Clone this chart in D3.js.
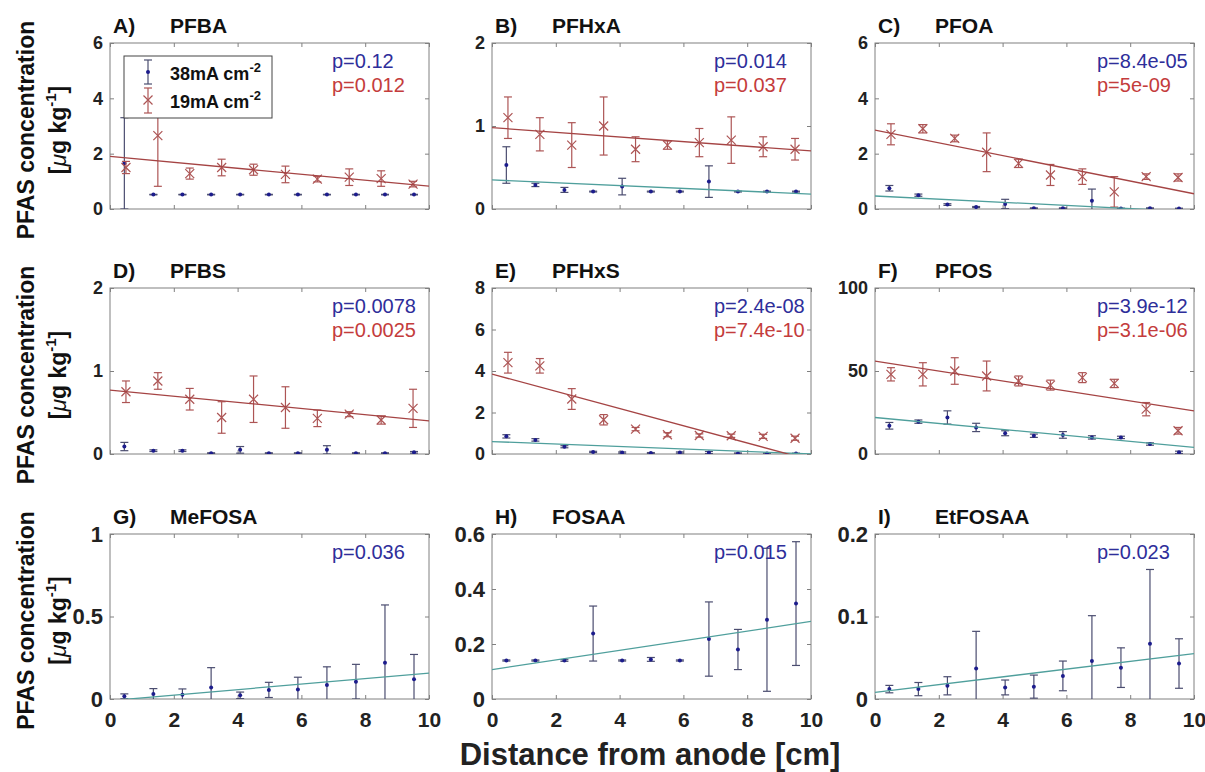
<!DOCTYPE html>
<html>
<head>
<meta charset="utf-8">
<script src="https://cdn.jsdelivr.net/npm/d3@7"></script>
<style>
  body { margin: 0; background: #fff; }
  text { font-family: Arial, "Liberation Sans", sans-serif; }
</style>
</head>
<body>
<div id="chart"></div>
<script>
// distances (cm) of the sampling points for each current density
const distBlue = [0.45, 1.36, 2.27, 3.17, 4.08, 4.98, 5.89, 6.8, 7.71, 8.62, 9.53];
const distRed = [0.5, 1.5, 2.5, 3.5, 4.5, 5.5, 6.5, 7.5, 8.5, 9.5];

const panelTags = ["A)", "B)", "C)", "D)", "E)", "F)", "G)", "H)", "I)"];
const compounds = ["PFBA", "PFHxA", "PFOA", "PFBS", "PFHxS", "PFOS", "MeFOSA", "FOSAA", "EtFOSAA"];
const yTickSets = [[0, 2, 4, 6], [0, 1, 2], [0, 2, 4, 6], [0, 1, 2], [0, 2, 4, 6, 8], [0, 50, 100],
                   [0, 0.5, 1], [0, 0.2, 0.4, 0.6], [0, 0.1, 0.2]];
const xTickVals = [0, 2, 4, 6, 8, 10];

// 38 mA cm-2 : mean and error
const blueMean = [
  [1.65, 0.52, 0.52, 0.52, 0.52, 0.52, 0.52, 0.52, 0.52, 0.52, 0.52],
  [0.53, 0.29, 0.23, 0.21, 0.27, 0.21, 0.21, 0.33, 0.21, 0.21, 0.21],
  [0.75, 0.5, 0.16, 0.07, 0.18, 0.03, 0.03, 0.3, 0.02, 0.03, 0.02],
  [0.09, 0.04, 0.04, 0.01, 0.05, 0.01, 0.01, 0.05, 0.01, 0.01, 0.02],
  [0.85, 0.68, 0.35, 0.1, 0.07, 0.05, 0.07, 0.07, 0.03, 0.03, 0.02],
  [17, 19.5, 22, 16, 12.5, 11, 11.5, 10, 10, 6, 1],
  [0.016, 0.03, 0.026, 0.07, 0.022, 0.055, 0.057, 0.085, 0.105, 0.22, 0.12],
  [0.14, 0.14, 0.14, 0.238, 0.14, 0.144, 0.14, 0.218, 0.18, 0.288, 0.347],
  [0.012, 0.012, 0.016, 0.037, 0.014, 0.015, 0.028, 0.046, 0.038, 0.067, 0.043]
];
const blueErr = [
  [1.65, 0.01, 0.01, 0.01, 0.01, 0.01, 0.01, 0.01, 0.01, 0.01, 0.01],
  [0.22, 0.02, 0.03, 0.005, 0.1, 0.005, 0.005, 0.19, 0.005, 0.005, 0.005],
  [0.1, 0.04, 0.03, 0.02, 0.17, 0.01, 0.01, 0.42, 0.01, 0.01, 0.01],
  [0.05, 0.01, 0.01, 0.005, 0.04, 0.005, 0.005, 0.05, 0.005, 0.005, 0.01],
  [0.08, 0.06, 0.05, 0.03, 0.03, 0.02, 0.03, 0.05, 0.02, 0.02, 0.02],
  [2, 1, 4, 2.5, 1.5, 1, 2, 1, 0.7, 0.7, 0.7],
  [0.015, 0.033, 0.035, 0.12, 0.02, 0.046, 0.075, 0.11, 0.105, 0.35, 0.15],
  [0.002, 0.002, 0.003, 0.1, 0.002, 0.007, 0.002, 0.135, 0.073, 0.26, 0.225],
  [0.0045, 0.008, 0.011, 0.045, 0.009, 0.014, 0.018, 0.055, 0.024, 0.09, 0.03]
];

// 19 mA cm-2 : mean and error (no data for G-I)
const redMean = [
  [1.5, 2.65, 1.28, 1.5, 1.42, 1.25, 1.08, 1.15, 1.1, 0.9],
  [1.1, 0.9, 0.77, 1.0, 0.72, 0.77, 0.8, 0.83, 0.75, 0.72],
  [2.7, 2.9, 2.55, 2.05, 1.65, 1.23, 1.17, 0.62, 1.17, 1.14],
  [0.75, 0.88, 0.66, 0.44, 0.66, 0.56, 0.43, 0.48, 0.41, 0.55],
  [4.4, 4.25, 2.65, 1.65, 1.2, 0.93, 0.89, 0.88, 0.85, 0.76],
  [48, 48, 50, 47, 44, 41.5, 46, 42.5, 27, 14],
  null, null, null
];
const redErr = [
  [0.22, 1.83, 0.2, 0.3, 0.2, 0.3, 0.1, 0.3, 0.28, 0.1],
  [0.25, 0.2, 0.27, 0.35, 0.15, 0.05, 0.17, 0.28, 0.12, 0.13],
  [0.38, 0.15, 0.12, 0.7, 0.15, 0.38, 0.28, 0.55, 0.1, 0.13],
  [0.13, 0.1, 0.13, 0.19, 0.28, 0.25, 0.1, 0.03, 0.05, 0.23],
  [0.5, 0.35, 0.5, 0.25, 0.08, 0.1, 0.08, 0.08, 0.1, 0.1],
  [4, 7, 8, 9, 3, 3, 3, 2.5, 4, 2],
  null, null, null
];

// regression lines: value at 0 cm and at 10 cm
const blueFit = [null, [0.35, 0.18], [0.47, -0.1], null, [0.6, 0], [22, 4],
                 [-0.01, 0.157], [0.107, 0.282], [0.008, 0.055]];
const redFit = [[1.9, 0.83], [0.98, 0.7], [2.85, 0.55], [0.77, 0.4], [3.85, -0.3], [56, 26],
                null, null, null];

const pBlue = ["p=0.12", "p=0.014", "p=8.4e-05", "p=0.0078", "p=2.4e-08", "p=3.9e-12",
               "p=0.036", "p=0.015", "p=0.023"];
const pRed = ["p=0.012", "p=0.037", "p=5e-09", "p=0.0025", "p=7.4e-10", "p=3.1e-06", null, null, null];

// layout
const width = 1205, height = 772;
const colX = [110, 492, 875];
const rowY = [43, 288, 534];
const plotW = 319;
const plotH = [166, 166, 165];

const blueDot = "#1c1c8c";
const blueBar = "#4b4d70";
const redCol = "#ad5555";
const redLine = "#a54444";
const tealLine = "#4f9f9c";
const boxCol = "#808080";

const svg = d3.select("#chart").append("svg")
  .attr("width", width)
  .attr("height", height);

panelTags.forEach((tag, i) => {
  const col = i % 3, row = Math.floor(i / 3);
  const x0 = colX[col], y0 = rowY[row], w = plotW, h = plotH[row];
  const ticks = yTickSets[i];

  const x = d3.scaleLinear().domain([0, 10]).range([x0, x0 + w]);
  const y = d3.scaleLinear().domain([0, ticks[ticks.length - 1]]).range([y0 + h, y0]);

  const clipId = "clip" + i;
  svg.append("clipPath").attr("id", clipId)
    .append("rect").attr("x", x0).attr("y", y0).attr("width", w).attr("height", h);

  const g = svg.append("g");
  const fs = row === 2 ? 22 : 18;

  // + AXES (ticks point inward, on all four sides)
  const yAxisL = g.append("g")
    .attr("transform", `translate(${x0},0)`)
    .call(d3.axisLeft(y).tickValues(ticks).tickSize(-4).tickPadding(7).tickFormat(d => d));
  yAxisL.attr("font-size", fs).attr("font-weight", "bold").attr("font-family", null).attr("color", "#222");

  g.append("g")
    .attr("transform", `translate(${x0 + w},0)`)
    .call(d3.axisRight(y).tickValues(ticks).tickSize(-4).tickFormat(""));

  const xAxisB = g.append("g")
    .attr("transform", `translate(0,${y0 + h})`)
    .call(d3.axisBottom(x).tickValues(xTickVals).tickSize(-4).tickPadding(13)
      .tickFormat(row === 2 ? (d => d) : ""));
  xAxisB.attr("font-size", 21).attr("font-weight", "bold").attr("font-family", null).attr("color", "#222");

  g.append("g")
    .attr("transform", `translate(0,${y0})`)
    .call(d3.axisTop(x).tickValues(xTickVals).tickSize(-4).tickFormat(""));

  g.selectAll(".domain").remove();
  g.selectAll(".tick line").attr("stroke", boxCol);

  g.append("rect")
    .attr("x", x0).attr("y", y0).attr("width", w).attr("height", h)
    .attr("fill", "none").attr("stroke", boxCol).attr("stroke-width", 1);

  const plot = g.append("g").attr("clip-path", `url(#${clipId})`);

  // 38 mA error bars + dots
  const bData = blueMean[i].map((m, k) => ({ d: distBlue[k], m: m, e: blueErr[i][k] }));
  const bG = plot.selectAll("g.blue").data(bData).join("g").attr("class", "blue");
  bG.append("line")
    .attr("x1", d => x(d.d)).attr("x2", d => x(d.d))
    .attr("y1", d => y(d.m - d.e)).attr("y2", d => y(d.m + d.e))
    .attr("stroke", blueBar).attr("stroke-width", 1.2);
  [-1, 1].forEach(s => {
    bG.append("line")
      .attr("x1", d => x(d.d) - 4).attr("x2", d => x(d.d) + 4)
      .attr("y1", d => y(d.m + s * d.e)).attr("y2", d => y(d.m + s * d.e))
      .attr("stroke", blueBar).attr("stroke-width", 1.2);
  });
  bG.append("circle")
    .attr("cx", d => x(d.d)).attr("cy", d => y(d.m)).attr("r", 2)
    .attr("fill", blueDot);

  // 19 mA error bars + crosses
  if (redMean[i]) {
    const rData = redMean[i].map((m, k) => ({ d: distRed[k], m: m, e: redErr[i][k] }));
    const rG = plot.selectAll("g.red").data(rData).join("g").attr("class", "red");
    rG.append("line")
      .attr("x1", d => x(d.d)).attr("x2", d => x(d.d))
      .attr("y1", d => y(d.m - d.e)).attr("y2", d => y(d.m + d.e))
      .attr("stroke", redCol).attr("stroke-width", 1.2);
    [-1, 1].forEach(s => {
      rG.append("line")
        .attr("x1", d => x(d.d) - 4).attr("x2", d => x(d.d) + 4)
        .attr("y1", d => y(d.m + s * d.e)).attr("y2", d => y(d.m + s * d.e))
        .attr("stroke", redCol).attr("stroke-width", 1.2);
    });
    rG.append("path")
      .attr("transform", d => `translate(${x(d.d)},${y(d.m)})`)
      .attr("d", "M-4.5,-4.5L4.5,4.5M-4.5,4.5L4.5,-4.5")
      .attr("stroke", redCol).attr("stroke-width", 1.2).attr("fill", "none");
  }

  // fit lines
  const fitLine = d3.line().x(d => x(d[0])).y(d => y(d[1]));
  if (blueFit[i]) {
    plot.append("path")
      .attr("d", fitLine([[0, blueFit[i][0]], [10, blueFit[i][1]]]))
      .attr("stroke", tealLine).attr("stroke-width", 1.3).attr("fill", "none");
  }
  if (redFit[i]) {
    plot.append("path")
      .attr("d", fitLine([[0, redFit[i][0]], [10, redFit[i][1]]]))
      .attr("stroke", redLine).attr("stroke-width", 1.3).attr("fill", "none");
  }

  // titles
  g.append("text").attr("x", x0 + 3).attr("y", y0 - 10)
    .attr("font-size", 21).attr("font-weight", "bold").attr("fill", "#111").text(tag);
  g.append("text").attr("x", x0 + 60).attr("y", y0 - 10)
    .attr("font-size", 21).attr("font-weight", "bold").attr("fill", "#111").text(compounds[i]);

  // p values
  g.append("text").attr("x", x0 + 222).attr("y", y0 + 25)
    .attr("font-size", 20).attr("fill", "#2e2e9a").text(pBlue[i]);
  if (pRed[i]) {
    g.append("text").attr("x", x0 + 222).attr("y", y0 + 49)
      .attr("font-size", 20).attr("fill", "#c43c3c").text(pRed[i]);
  }
});

// legend in panel A
const leg = svg.append("g");
leg.append("rect").attr("x", 124).attr("y", 56).attr("width", 148).attr("height", 62)
  .attr("fill", "#fff").attr("stroke", "#444").attr("stroke-width", 1);
const legItems = [
  { label: "38mA cm", top: 60, bottom: 84, mid: 72, col: blueBar, red: false },
  { label: "19mA cm", top: 88, bottom: 113, mid: 100, col: redCol, red: true }
];
legItems.forEach(it => {
  leg.append("line").attr("x1", 148).attr("x2", 148).attr("y1", it.top).attr("y2", it.bottom)
    .attr("stroke", it.col).attr("stroke-width", 1.2);
  [it.top, it.bottom].forEach(yy => {
    leg.append("line").attr("x1", 144).attr("x2", 152).attr("y1", yy).attr("y2", yy)
      .attr("stroke", it.col).attr("stroke-width", 1.2);
  });
  if (it.red) {
    leg.append("path").attr("transform", `translate(148,${it.mid})`)
      .attr("d", "M-4.5,-4.5L4.5,4.5M-4.5,4.5L4.5,-4.5")
      .attr("stroke", redCol).attr("stroke-width", 1.2).attr("fill", "none");
  } else {
    leg.append("circle").attr("cx", 148).attr("cy", it.mid).attr("r", 2).attr("fill", blueDot);
  }
  const t = leg.append("text").attr("x", 170).attr("y", it.mid + 8)
    .attr("font-size", 18).attr("font-weight", "bold").attr("fill", "#111");
  t.append("tspan").text(it.label);
  t.append("tspan").attr("font-size", 13).attr("dy", -8).text("-2");
});

// y axis titles, one per row
rowY.forEach((ry, r) => {
  const cy = ry + plotH[r] / 2 + 4;
  svg.append("text")
    .attr("transform", `translate(34,${cy}) rotate(-90)`)
    .attr("text-anchor", "middle")
    .attr("font-size", 23).attr("font-weight", "bold").attr("fill", "#111")
    .text("PFAS concentration");
  const t = svg.append("text")
    .attr("transform", `translate(66,${cy}) rotate(-90)`)
    .attr("text-anchor", "middle")
    .attr("font-size", 23).attr("font-weight", "bold").attr("fill", "#111");
  t.append("tspan").text("[");
  t.append("tspan").attr("font-style", "italic").attr("font-weight", "normal").text("\u03bc");
  t.append("tspan").text("g kg");
  t.append("tspan").attr("font-size", 15).attr("dy", -10).text("-1");
  t.append("tspan").attr("dy", 10).text("]");
});

// x axis title
svg.append("text")
  .attr("x", 650).attr("y", 765)
  .attr("text-anchor", "middle")
  .attr("font-size", 31).attr("font-weight", "bold").attr("fill", "#222")
  .text("Distance from anode [cm]");
</script>
</body>
</html>
